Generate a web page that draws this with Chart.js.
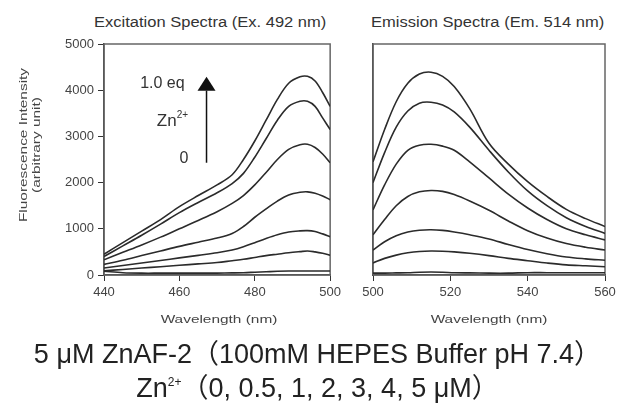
<!DOCTYPE html>
<html>
<head>
<meta charset="utf-8">
<script src="https://cdn.jsdelivr.net/npm/chart.js@4"></script>
<style>
  body { margin: 0; background: #fff; width: 635px; height: 410px; position: relative; overflow: hidden;
         font-family: "Liberation Sans", Arial, "Noto Sans CJK JP", sans-serif; color: #222; }
  .box { position: absolute; top: 0; }
  .ttl { position: absolute; top: 14px; font-size: 14px; color: #333; white-space: nowrap; transform: scaleX(1.18); transform-origin: left top; }
  .xt { position: absolute; top: 313px; width: 200px; text-align: center; font-size: 11px; color: #444; transform: scaleX(1.4); }
  .yt { position: absolute; left: -70px; top: 132px; width: 200px; text-align: center; font-size: 11px; line-height: 13px; color: #444;
        transform: rotate(-90deg) scaleX(1.4); }
  .cap { position: absolute; left: 0; width: 635px; text-align: center; font-size: 27px; line-height: 28px; color: #222; white-space: nowrap; }
  .cap sup { font-size: 12px; vertical-align: 11px; line-height: 0; }
</style>
</head>
<body>
<div class="ttl" style="left:94px">Excitation Spectra (Ex. 492 nm)</div>
<div class="ttl" style="left:371px">Emission Spectra (Em. 514 nm)</div>
<div class="box" style="left:0;width:345px;height:330px"><canvas id="exChart"></canvas></div>
<div class="box" style="left:345px;width:290px;height:330px"><canvas id="emChart"></canvas></div>
<div class="yt">Fluorescence Intensity<br>(arbitrary unit)</div>
<div class="xt" style="left:119px">Wavelength (nm)</div>
<div class="xt" style="left:389px">Wavelength (nm)</div>
<div class="cap" style="top:340px">5 μM ZnAF-2（100mM HEPES Buffer pH 7.4）</div>
<div class="cap" style="top:374px">Zn<sup>2+</sup>（0, 0.5, 1, 2, 3, 4, 5 μM）</div>
<script>
// Zn2+ concentrations (uM), top curve first
const znLevels = ['5', '4', '3', '2', '1', '0.5', '0'];

// Excitation spectra (Ex. 492 nm)
const exWavelengths = [440, 445, 450, 455, 460, 465, 470, 474, 477, 480, 483, 486, 489, 492, 494, 496, 498, 500];
const ex5 = [450, 700, 950, 1200, 1480, 1720, 1950, 2170, 2500, 2900, 3350, 3800, 4150, 4290, 4300, 4200, 3950, 3650];
const ex4 = [400, 630, 860, 1100, 1350, 1570, 1780, 1980, 2200, 2550, 2950, 3350, 3650, 3760, 3760, 3650, 3400, 3150];
const ex3 = [330, 490, 650, 820, 1000, 1180, 1370, 1550, 1720, 1950, 2220, 2500, 2720, 2820, 2830, 2760, 2620, 2430];
const ex2 = [230, 320, 420, 520, 620, 710, 800, 900, 1050, 1250, 1430, 1600, 1730, 1790, 1800, 1770, 1710, 1630];
const ex1 = [150, 205, 260, 315, 370, 425, 480, 540, 610, 700, 790, 870, 930, 955, 960, 940, 890, 830];
const ex05 = [90, 120, 150, 180, 210, 240, 270, 310, 340, 380, 420, 450, 480, 505, 520, 500, 470, 430];
const ex0 = [80, 50, 40, 40, 40, 40, 40, 45, 50, 60, 70, 80, 85, 85, 85, 85, 85, 85];

// Emission spectra (Em. 514 nm)
const emWavelengths = [500, 503, 506, 509, 512, 515, 518, 521, 525, 530, 535, 540, 545, 550, 555, 560];
const em5 = [2450, 3150, 3750, 4150, 4350, 4390, 4300, 4080, 3600, 2850, 2400, 2020, 1700, 1420, 1220, 1050];
const em4 = [2000, 2650, 3200, 3550, 3720, 3740, 3680, 3530, 3200, 2700, 2230, 1820, 1500, 1240, 1050, 900];
const em3 = [1410, 1950, 2400, 2700, 2810, 2830, 2790, 2700, 2450, 2100, 1750, 1450, 1200, 1000, 870, 760];
const em2 = [870, 1200, 1500, 1700, 1800, 1830, 1810, 1740, 1600, 1400, 1170, 960, 800, 680, 600, 540];
const em1 = [540, 720, 850, 930, 970, 980, 965, 930, 870, 780, 660, 550, 460, 390, 350, 320];
const em05 = [260, 360, 430, 480, 510, 520, 515, 500, 470, 420, 360, 310, 260, 220, 200, 180];
const em0 = [40, 40, 45, 50, 60, 65, 60, 50, 45, 40, 40, 50, 50, 50, 50, 50];

const yTicks = [0, 1000, 2000, 3000, 4000, 5000];
const exTicks = [440, 460, 480, 500];
const emTicks = [500, 520, 540, 560];

function makeSets(xs, series) {
    return series.map((vals, i) => ({
        label: znLevels[i] + ' uM',
        data: vals.map((v, j) => ({ x: xs[j], y: v })),
        borderColor: '#2b2b2b',
        borderWidth: 1.6,
        pointRadius: 0,
        tension: 0.35,
        fill: false
    }));
}

// gray frame around plot area
const framePlugin = {
    id: 'frame',
    beforeDatasetsDraw(chart) {
        const a = chart.chartArea, ctx = chart.ctx;
        ctx.save();
        ctx.strokeStyle = '#666';
        ctx.lineWidth = 1.5;
        ctx.strokeRect(a.left, a.top, a.right - a.left, a.bottom - a.top);
        ctx.restore();
    }
};

// "1.0 eq / Zn2+ / 0" arrow, placed in data units
const arrowPlugin = {
    id: 'znArrow',
    afterDatasetsDraw(chart) {
        const xs = chart.scales.x, ys = chart.scales.y, ctx = chart.ctx;
        const ax = xs.getPixelForValue(467.2);
        const yBot = ys.getPixelForValue(2430);
        const yTip = ys.getPixelForValue(4290);
        const yBase = ys.getPixelForValue(3990);
        ctx.save();
        ctx.strokeStyle = '#111';
        ctx.fillStyle = '#111';
        ctx.lineWidth = 1.5;
        ctx.beginPath();
        ctx.moveTo(ax, yBot);
        ctx.lineTo(ax, yBase);
        ctx.stroke();
        ctx.beginPath();
        ctx.moveTo(ax, yTip);
        ctx.lineTo(ax - 9, yBase);
        ctx.lineTo(ax + 9, yBase);
        ctx.closePath();
        ctx.fill();
        ctx.fillStyle = '#333';
        ctx.textAlign = 'center';
        ctx.textBaseline = 'middle';
        ctx.font = '16px "Liberation Sans", Arial';
        ctx.fillText('1.0 eq', xs.getPixelForValue(455.5), ys.getPixelForValue(4140));
        ctx.textAlign = 'right';
        const zx = xs.getPixelForValue(462.3), zy = ys.getPixelForValue(3320);
        ctx.font = '10px "Liberation Sans", Arial';
        const supW = ctx.measureText('2+').width;
        ctx.fillText('2+', zx, zy - 6);
        ctx.font = '17px "Liberation Sans", Arial';
        ctx.fillText('Zn', zx - supW, zy);
        ctx.textAlign = 'center';
        ctx.font = '16px "Liberation Sans", Arial';
        ctx.fillText('0', xs.getPixelForValue(461.2), ys.getPixelForValue(2520));
        ctx.restore();
    }
};

function axisOpts(min, max, ticks, showLabels) {
    return {
        type: 'linear',
        min: min,
        max: max,
        afterBuildTicks: s => { s.ticks = ticks.map(v => ({ value: v })); },
        ticks: {
            display: showLabels,
            color: '#444',
            font: { size: 13, family: '"Liberation Sans", Arial' },
            padding: 4,
            autoSkip: false,
            maxRotation: 0,
            callback: v => String(v)
        },
        grid: { drawOnChartArea: false, drawTicks: showLabels, tickLength: 6, color: '#333' },
        border: { display: true, color: '#333', width: 1.5 },
        title: { display: false }
    };
}

function buildChart(id, xs, series, xr, xTickVals, yWidth, padRight, showY, extraPlugins) {
    const x = axisOpts(xr[0], xr[1], xTickVals, true);
    x.afterFit = s => { s.height = 55; };
    const y = axisOpts(0, 5000, yTicks, showY);
    y.afterFit = s => { s.width = yWidth; };
    new Chart(document.getElementById(id), {
        type: 'line',
        data: { datasets: makeSets(xs, series) },
        options: {
            responsive: true,
            maintainAspectRatio: false,
            animation: false,
            layout: { padding: { top: 44, right: padRight, left: 0, bottom: 0 } },
            plugins: { legend: { display: false }, tooltip: { enabled: false } },
            scales: { x: x, y: y }
        },
        plugins: [framePlugin].concat(extraPlugins)
    });
}

buildChart('exChart', exWavelengths, [ex5, ex4, ex3, ex2, ex1, ex05, ex0], [440, 500], exTicks, 104, 10, true, [arrowPlugin]);
buildChart('emChart', emWavelengths, [em5, em4, em3, em2, em1, em05, em0], [500, 560], emTicks, 28, 30, false, []);
</script>
</body>
</html>
